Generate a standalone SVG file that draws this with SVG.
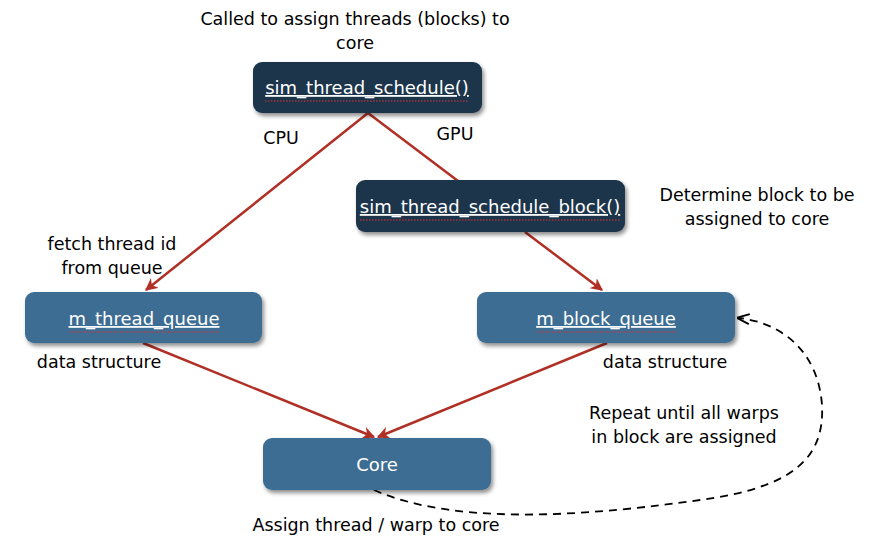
<svg xmlns="http://www.w3.org/2000/svg" width="873" height="542" viewBox="0 0 873 542">
<defs>
<style>
.lbl{font-family:"DejaVu Sans","Liberation Sans",Arial,sans-serif;font-size:17.5px;fill:#000;text-anchor:middle}
.nt{font-family:"DejaVu Sans","Liberation Sans",Arial,sans-serif;font-size:18px;fill:#fff;text-anchor:middle;text-decoration:underline}
.dark{fill:#1f344b}
.blue{fill:#3e6d92}
.edge{stroke:#b03026;stroke-width:2.5;fill:none}
.wavy{stroke:#e03030;stroke-width:1;fill:none;stroke-dasharray:1.5 1.5}
</style>
<filter id="sh" x="-10%" y="-20%" width="125%" height="150%">
<feGaussianBlur in="SourceAlpha" stdDeviation="2"/>
<feOffset dx="2" dy="3"/>
<feComponentTransfer><feFuncA type="linear" slope="0.45"/></feComponentTransfer>
<feMerge><feMergeNode/><feMergeNode in="SourceGraphic"/></feMerge>
</filter>
<marker id="ah" viewBox="0 0 10 10" refX="9" refY="5" markerWidth="5" markerHeight="5" orient="auto" markerUnits="strokeWidth">
<path d="M0,0 L10,5 L0,10 L3,5 z" fill="#b03026"/>
</marker>
<marker id="ab" viewBox="0 0 10 10" refX="9" refY="5" markerWidth="7" markerHeight="7" orient="auto" markerUnits="strokeWidth">
<path d="M0,1 L10,5 L0,9" fill="none" stroke="#000" stroke-width="1.5"/>
</marker>
</defs>
<rect width="873" height="542" fill="#fff"/>

<g id="connectors">
<path class="edge" d="M368,113 L146,290" marker-end="url(#ah)"/>
<path class="edge" d="M368,113 L458,181"/>
<path class="edge" d="M525,232 L602,290" marker-end="url(#ah)"/>
<path class="edge" d="M143,343 L374,437" marker-end="url(#ah)"/>
<path class="edge" d="M607,343 L378,437" marker-end="url(#ah)"/>
<path d="M374,490 C460,528 600,514 700,500 C790,488 825,460 822,405 C818,350 780,322 738,318" fill="none" stroke="#000" stroke-width="1.8" stroke-dasharray="8 6" marker-end="url(#ab)"/>
</g>

<g id="n_schedule">
<rect x="253" y="62" width="229" height="51" rx="9" class="dark" filter="url(#sh)"/>
<text x="367" y="94" class="nt">sim_thread_schedule()</text>
<path class="wavy" d="M265,101 H469"/>
</g>

<g id="n_schedule_block">
<rect x="356" y="180" width="269" height="52" rx="9" class="dark" filter="url(#sh)"/>
<text x="490" y="213" class="nt">sim_thread_schedule_block()</text>
<path class="wavy" d="M360,220 H620"/>
</g>

<g id="n_thread_queue">
<rect x="25" y="292" width="237" height="51" rx="9" class="blue" filter="url(#sh)"/>
<text x="144" y="325" class="nt">m_thread_queue</text>
<path class="wavy" d="M69,332 H220"/>
</g>

<g id="n_block_queue">
<rect x="477" y="292" width="258" height="51" rx="9" class="blue" filter="url(#sh)"/>
<text x="606" y="325" class="nt">m_block_queue</text>
<path class="wavy" d="M537,332 H676"/>
</g>

<g id="n_core">
<rect x="263" y="438" width="228" height="52" rx="9" class="blue" filter="url(#sh)"/>
<text x="377" y="471" class="lbl" style="fill:#fff;font-size:18px">Core</text>
</g>

<g id="labels">
<text x="355" y="25" class="lbl">Called to assign threads (blocks) to</text>
<text x="355" y="49" class="lbl">core</text>
<text x="281" y="144" class="lbl">CPU</text>
<text x="455" y="140" class="lbl">GPU</text>
<text x="757" y="201" class="lbl">Determine block to be</text>
<text x="757" y="225" class="lbl">assigned to core</text>
<text x="112" y="250" class="lbl">fetch thread id</text>
<text x="112" y="274" class="lbl">from queue</text>
<text x="99" y="368" class="lbl">data structure</text>
<text x="665" y="368" class="lbl">data structure</text>
<text x="684" y="419" class="lbl">Repeat until all warps</text>
<text x="684" y="443" class="lbl">in block are assigned</text>
<text x="376" y="531" class="lbl">Assign thread / warp to core</text>
</g>
</svg>
